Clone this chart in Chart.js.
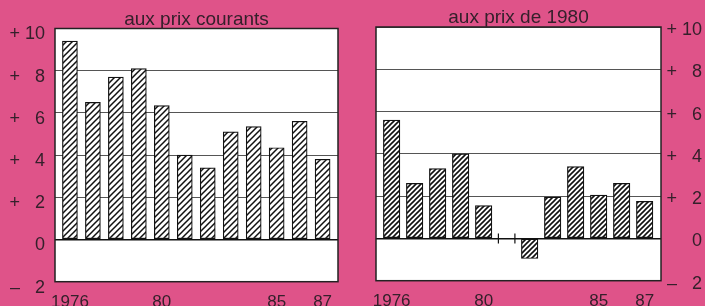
<!DOCTYPE html>
<html>
<head>
<meta charset="utf-8">
<script src="https://cdn.jsdelivr.net/npm/chart.js@4"></script>
<style>
  html, body { margin: 0; padding: 0; background: #df5389; }
  #wrap { position: relative; width: 705px; height: 306px; overflow: hidden; }
  .c { position: absolute; top: 0; }
</style>
</head>
<body>
<div id="wrap">
  <div class="c" style="left:0;width:350px;height:306px"><canvas id="gauche"></canvas></div>
  <div class="c" style="left:350px;width:355px;height:306px"><canvas id="droite"></canvas></div>
</div>
<script>
"use strict";

var years = [1976, 1977, 1978, 1979, 1980, 1981, 1982, 1983, 1984, 1985, 1986, 1987];
var yearLabels = ['1976', '', '', '', '80', '', '', '', '', '85', '', '87'];
var prixCourants = [9.4, 6.5, 7.7, 8.1, 6.35, 4.0, 3.4, 5.1, 5.35, 4.35, 5.6, 3.8];
var prix1980 = [5.6, 2.6, 3.3, 4.0, 1.55, 0, -0.95, 1.95, 3.4, 2.05, 2.6, 1.75];
var yTicks = [-2, 0, 2, 4, 6, 8, 10];
var yTickLabels = ['\u2013 \u20072', '0', '+ \u20072', '+ \u20074', '+ \u20076', '+ \u20078', '+ 10'];

var ink = '#35202b';

function hatch(size, width) {
    var c = document.createElement('canvas');
    c.width = size;
    c.height = size;
    var g = c.getContext('2d');
    g.fillStyle = '#fff';
    g.fillRect(0, 0, size, size);
    g.strokeStyle = '#111';
    g.lineWidth = width;
    g.beginPath();
    g.moveTo(0, size); g.lineTo(size, 0);
    g.moveTo(-size, size); g.lineTo(size, -size);
    g.moveTo(0, 2 * size); g.lineTo(2 * size, 0);
    g.stroke();
    return g.createPattern(c, 'repeat');
}

var boxPlugin = {
    id: 'box',
    beforeDraw: function(chart) {
        var a = chart.chartArea, ctx = chart.ctx;
        ctx.save();
        ctx.fillStyle = '#fff';
        ctx.fillRect(a.left, a.top, a.right - a.left, a.bottom - a.top);
        ctx.restore();
    },
    afterDatasetsDraw: function(chart, args, o) {
        var a = chart.chartArea, ctx = chart.ctx;
        ctx.save();
        // zero-height bars shown as little ticks
        chart.getDatasetMeta(0).data.forEach(function(el, i) {
            if (chart.data.datasets[0].data[i].y === 0) {
                ctx.strokeStyle = '#111';
                ctx.lineWidth = 1.2;
                ctx.beginPath();
                ctx.moveTo(el.x - el.width / 2, el.y - 5); ctx.lineTo(el.x - el.width / 2, el.y + 5);
                ctx.moveTo(el.x + el.width / 2, el.y - 5); ctx.lineTo(el.x + el.width / 2, el.y + 5);
                ctx.stroke();
            }
        });
        ctx.strokeStyle = '#222';
        ctx.lineWidth = 1.5;
        ctx.strokeRect(a.left, a.top, a.right - a.left, a.bottom - a.top);

        // title centred over the plot box
        ctx.fillStyle = ink;
        ctx.font = '19px "Liberation Sans"';
        ctx.textAlign = 'center';
        ctx.textBaseline = 'alphabetic';
        ctx.fillText(o.text, (a.left + a.right) / 2, o.baseline);
        ctx.restore();
    }
};

function makeChart(id, title, values, side, opts) {
    var points = years.map(function(y, i) { return {x: y, y: values[i]}; });
    return new Chart(document.getElementById(id), {
        type: 'bar',
        data: {
            datasets: [{
                data: points,
                backgroundColor: hatch(opts.hatchSize, opts.hatchWidth),
                borderColor: '#111',
                borderWidth: 1.2,
                borderSkipped: false,
                barThickness: opts.barWidth
            }]
        },
        options: {
            responsive: true,
            maintainAspectRatio: false,
            animation: false,
            layout: {padding: opts.padding},
            plugins: {
                legend: {display: false},
                tooltip: {enabled: false},
                title: {display: false},
                box: {text: title, baseline: opts.titleBaseline}
            },
            scales: {
                x: {
                    type: 'linear',
                    offset: false,
                    min: opts.xMin,
                    max: opts.xMax,
                    grid: {display: false},
                    border: {display: false},
                    afterBuildTicks: function(s) {
                        s.ticks = years.map(function(v) { return {value: v}; });
                    },
                    afterFit: function(s) { s.height = opts.xHeight; },
                    ticks: {
                        autoSkip: false,
                        maxRotation: 0,
                        padding: 2,
                        color: ink,
                        font: {family: 'Liberation Sans', size: 17},
                        callback: function(v) { return yearLabels[years.indexOf(v)]; }
                    }
                },
                y: {
                    position: side,
                    min: -2,
                    max: 10,
                    afterBuildTicks: function(s) {
                        s.ticks = yTicks.map(function(v) { return {value: v}; });
                    },
                    afterFit: function(s) { s.width = opts.yWidth; },
                    border: {display: false},
                    grid: {
                        drawTicks: false,
                        color: function(c) { return c.tick && c.tick.value === 0 ? '#111' : '#555'; },
                        lineWidth: function(c) { return c.tick && c.tick.value === 0 ? 1.6 : 1; }
                    },
                    ticks: {
                        padding: 10,
                        crossAlign: side === 'right' ? 'far' : 'near',
                        labelOffset: opts.labelOffset,
                        color: ink,
                        font: {family: 'Liberation Sans', size: opts.yFont},
                        callback: function(v) { return yTickLabels[yTicks.indexOf(v)]; }
                    }
                }
            }
        },
        plugins: [boxPlugin]
    });
}

makeChart('gauche', 'aux prix courants', prixCourants, 'left', {
    hatchSize: 6, hatchWidth: 1.5, barWidth: 15,
    padding: {left: 0, right: 12, top: 28.5, bottom: 0},
    titleBaseline: 25,
    xMin: 1975.35, xMax: 1987.67, xHeight: 24.3, yWidth: 55,
    labelOffset: 6, yFont: 18
});

makeChart('droite', 'aux prix de 1980', prix1980, 'right', {
    hatchSize: 5, hatchWidth: 1.6, barWidth: 16.5,
    padding: {left: 26, right: 3, top: 27, bottom: 0},
    titleBaseline: 23,
    xMin: 1975.32, xMax: 1987.71, xHeight: 25.3, yWidth: 41,
    labelOffset: 3, yFont: 18
});
</script>
</body>
</html>
